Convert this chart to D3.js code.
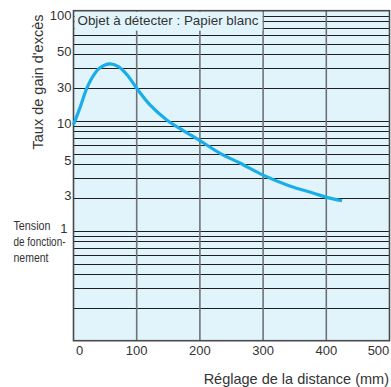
<!DOCTYPE html>
<html>
<head>
<meta charset="utf-8">
<script src="https://cdn.jsdelivr.net/npm/d3@7"></script>
<style>
  body { margin: 0; background: #fff; }
  text { font-family: "Liberation Sans", Arial, sans-serif; fill: #333; }
</style>
</head>
<body>
<script>
// data
const distance = [0, 10, 21, 32, 42, 57, 71, 85, 100, 121, 148, 168, 200, 232, 264, 300, 342, 380, 401, 425];
const gain     = [9.2, 13, 19.7, 26, 30.3, 32.8, 31, 26, 19.7, 13.9, 10.1, 8.5, 6.6, 5.05, 4.1, 3.2, 2.55, 2.19, 2.01, 1.87];

const xTicks = [0, 100, 200, 300, 400, 500];
const yTickLabels = ["100", "50", "30", "10", "5", "3", "1"];
const yTickAt     = [91.4, 42.7, 20.2, 9.4, 4.37, 2.1, 1.06];

const W = 391, H = 387;
const pL = 73.5, pR = 389.5, pT = 10.7, pB = 340.7;

const svg = d3.select("body").append("svg")
  .attr("width", W)
  .attr("height", H);

const x = d3.scaleLinear().domain([0, 500]).range([pL, pR]);
const y = d3.scaleLog().domain([0.1, 100]).range([pB, pT]);

// plot background
svg.append("rect")
  .attr("x", pL).attr("y", pT)
  .attr("width", pR - pL).attr("height", pB - pT)
  .attr("fill", "#e1f3fb");

// horizontal grid (log 1..9 per decade)
svg.append("g")
  .selectAll("line")
  .data(y.ticks().filter(v => v > 0.1 && v < 100))
  .enter()
  .append("line")
  .attr("x1", pL).attr("x2", pR)
  .attr("y1", d => Math.round(y(d)) + 0.5)
  .attr("y2", d => Math.round(y(d)) + 0.5)
  .attr("stroke", "#1e1e1e")
  .attr("stroke-width", 1);

// vertical grid
svg.append("g")
  .selectAll("line")
  .data(xTicks.slice(1, -1))
  .enter()
  .append("line")
  .attr("x1", d => x(d)).attr("x2", d => x(d))
  .attr("y1", pT).attr("y2", pB)
  .attr("stroke", "#6e7378")
  .attr("stroke-width", 1.6);

// title box
svg.append("rect")
  .attr("x", pL + 1).attr("y", pT + 1)
  .attr("width", 188).attr("height", 19)
  .attr("fill", "#e1f3fb");

svg.append("text")
  .attr("x", pL + 4).attr("y", pT + 14.5)
  .attr("font-size", 13.4)
  .text("Objet à détecter : Papier blanc");

// frame
svg.append("rect")
  .attr("x", pL).attr("y", pT)
  .attr("width", pR - pL).attr("height", pB - pT)
  .attr("fill", "none")
  .attr("stroke", "#4a4a4a")
  .attr("stroke-width", 1.6);

// curve
const line = d3.line()
  .x((d, i) => x(distance[i]))
  .y(d => y(d))
  .curve(d3.curveCatmullRom);

svg.append("path")
  .datum(gain)
  .attr("d", line)
  .attr("fill", "none")
  .attr("stroke", "#1aaee8")
  .attr("stroke-width", 3.2);

// y tick labels
svg.append("g")
  .selectAll("text")
  .data(yTickLabels)
  .enter()
  .append("text")
  .attr("x", (d, i) => d === "1" ? 67.5 : 71.5)
  .attr("y", (d, i) => y(yTickAt[i]))
  .attr("dy", "0.36em")
  .attr("text-anchor", "end")
  .attr("font-size", 13)
  .text(d => d);

// x tick labels
svg.append("g")
  .selectAll("text")
  .data(xTicks)
  .enter()
  .append("text")
  .attr("x", d => d === 0 ? x(d) + 6 : (d === 500 ? x(d) - 11 : x(d)))
  .attr("y", 355)
  .attr("text-anchor", "middle")
  .attr("font-size", 13)
  .text(d => d);

// axis titles
svg.append("text")
  .attr("transform", "translate(43,82) rotate(-90)")
  .attr("text-anchor", "middle")
  .attr("font-size", 14.5)
  .text("Taux de gain d'excès");

svg.append("text")
  .attr("x", 389).attr("y", 384)
  .attr("text-anchor", "end")
  .attr("font-size", 14.5)
  .text("Réglage de la distance (mm)");

const tension = ["Tension", "de fonction-", "nement"];
svg.append("g")
  .selectAll("text")
  .data(tension)
  .enter()
  .append("text")
  .attr("x", 13.5)
  .attr("y", (d, i) => 229.5 + i * 16)
  .attr("font-size", 12)
  .attr("textLength", (d, i) => [37, 52, 35][i])
  .attr("lengthAdjust", "spacingAndGlyphs")
  .text(d => d);
</script>
</body>
</html>
